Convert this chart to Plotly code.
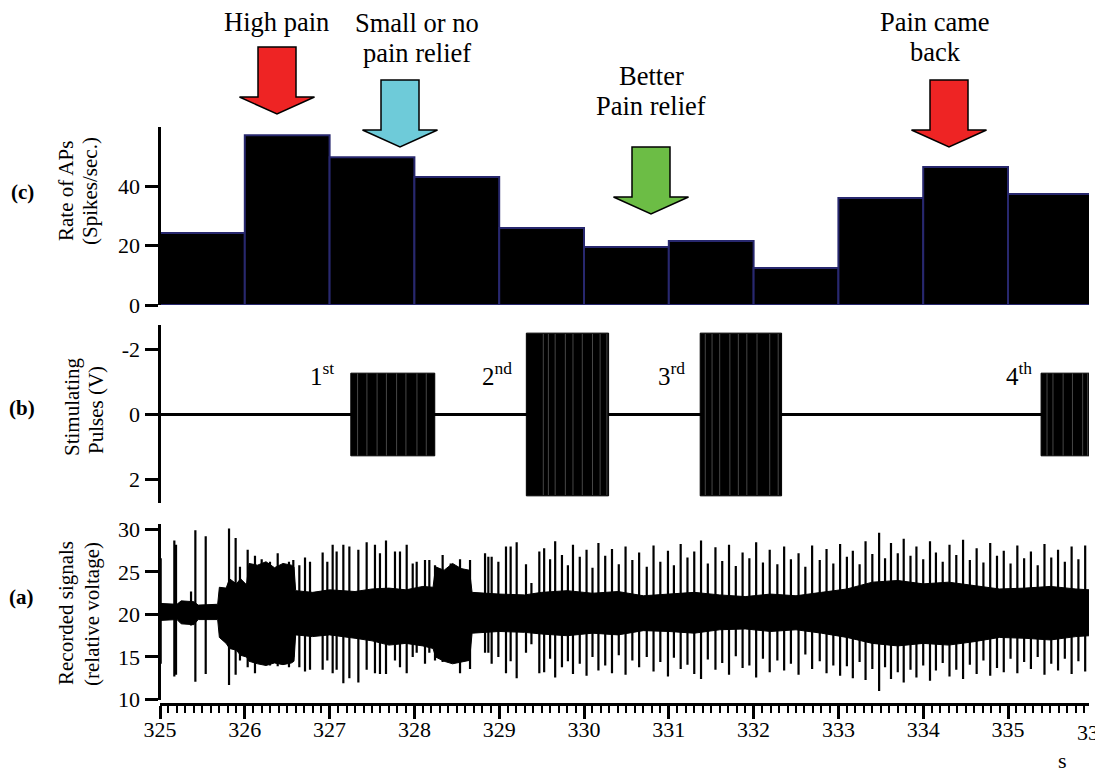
import plotly.graph_objects as go

# ---------------- data ----------------
# Panel (c): firing-rate histogram, 1-s bins
bin_start = [325, 326, 327, 328, 329, 330, 331, 332, 333, 334, 335]
rate = [24.2, 57.1, 49.7, 43.0, 25.9, 19.5, 21.5, 12.4, 36.0, 46.4, 37.3]

# Panel (b): stimulation trains
train_start = [327.25, 329.32, 331.37, 335.39]
train_end = [328.24, 330.29, 332.33, 336.0]
train_amp = [1.27, 2.5, 2.5, 1.27]
train_label = ["1<sup>st</sup>", "2<sup>nd</sup>", "3<sup>rd</sup>", "4<sup>th</sup>"]
train_label_t = [326.91, 328.97, 331.03, 335.13]
# boundaries between successive pulses inside the trains (faint light lines)
pulse_edge_t = [327.33, 327.44, 327.56, 327.67, 327.79, 327.90, 328.03, 328.14,
                329.52, 329.58, 329.66, 329.78, 329.87, 329.98, 330.10, 330.19, 330.27,
                331.43, 331.51, 331.60, 331.72, 331.82, 331.92, 332.04, 332.19, 332.29,
                335.46, 335.53, 335.65, 335.76, 335.88, 335.94]
pulse_edge_amp = [1.27] * 8 + [2.5] * 18 + [1.27] * 6

# Panel (a): recorded signal – background envelope
env_t = [325.00, 325.20, 325.25, 325.40, 325.45, 325.68, 325.70, 325.78, 325.82, 325.90,
         325.95, 326.02, 326.05, 326.15, 326.25, 326.35, 326.45, 326.55, 326.58, 326.60,
         326.80, 327.00, 327.30, 327.50, 327.70, 327.90, 328.10, 328.22, 328.25, 328.35,
         328.45, 328.55, 328.65, 328.68, 329.00, 329.30, 329.50, 329.80, 330.10, 330.40,
         330.70, 331.00, 331.30, 331.60, 331.90, 332.20, 332.50, 332.80, 333.10, 333.40,
         333.70, 334.00, 334.30, 334.60, 334.90, 335.20, 335.50, 335.80, 335.96]
env_hi = [21.3, 21.2, 21.6, 21.5, 21.1, 21.2, 23.2, 23.1, 24.2, 23.6,
          24.2, 23.5, 26.0, 25.8, 26.2, 25.5, 26.0, 25.8, 25.6, 22.8,
          22.6, 22.9, 22.7, 23.0, 23.1, 22.9, 23.3, 23.2, 25.6, 25.2,
          26.0, 25.4, 25.2, 22.6, 22.4, 22.3, 22.6, 22.8, 22.5, 22.7,
          22.2, 22.4, 22.6, 22.3, 22.1, 22.4, 22.2, 22.6, 23.0, 23.8,
          24.0, 23.6, 23.8, 23.4, 23.0, 23.1, 23.3, 23.0, 22.9]
env_lo = [19.3, 19.4, 18.9, 18.8, 19.4, 19.4, 17.3, 16.6, 16.0, 15.8,
          15.2, 15.0, 14.5, 14.2, 14.0, 14.3, 14.1, 14.3, 14.5, 17.6,
          17.4, 17.6, 17.2, 16.9, 16.4, 16.6, 16.3, 16.0, 15.0, 14.5,
          14.2, 14.4, 14.6, 17.8, 18.0, 17.9, 17.7, 17.5, 17.8, 17.6,
          18.1, 18.0, 17.8, 18.2, 18.3, 18.0, 18.2, 17.8, 17.3, 16.6,
          16.3, 16.6, 16.4, 16.8, 17.3, 17.2, 17.0, 17.4, 17.5]

# Panel (a): individual action potentials (time, upper tip, lower tip)
spike_t = [325.008, 325.169, 325.189, 325.366, 325.417, 325.539, 325.814, 325.892, 325.943,
           326.034, 326.120, 326.199, 326.297, 326.388, 326.521, 326.572, 326.643, 326.710,
           326.769, 326.918, 326.973, 327.036, 327.083, 327.162, 327.233, 327.339, 327.437,
           327.535, 327.594, 327.665, 327.771, 327.830, 327.909, 327.980, 328.027, 328.125,
           328.176, 328.243, 328.333, 328.428, 328.538, 328.656, 328.833, 328.872, 328.911,
           328.990, 329.080, 329.135, 329.206, 329.316, 329.380, 329.473,
           329.53, 329.60, 329.66, 329.74, 329.81, 329.87, 329.95, 330.03, 330.10, 330.17,
           330.25, 330.33, 330.41, 330.49, 330.57, 330.65, 330.74, 330.82, 330.90, 330.99,
           331.06, 331.14, 331.22, 331.30, 331.38, 331.46, 331.55, 331.63, 331.71, 331.79,
           331.87, 331.95, 332.03, 332.11, 332.19, 332.28, 332.36, 332.44, 332.53, 332.61,
           332.69, 332.78, 332.86, 332.94, 333.02, 333.10, 333.17, 333.25, 333.32, 333.40,
           333.48, 333.55, 333.62, 333.70, 333.77, 333.85, 333.92, 334.00, 334.08, 334.15,
           334.23, 334.31, 334.39, 334.47, 334.55, 334.63, 334.71, 334.79, 334.87, 334.95,
           335.03, 335.11, 335.19, 335.27, 335.35, 335.43, 335.51, 335.59, 335.67, 335.75,
           335.83, 335.91]
spike_hi = [26.6, 28.7, 28.2, 22.7, 29.9, 29.2, 30.1, 29.0, 25.6,
            27.6, 26.9, 26.5, 26.2, 27.2, 26.2, 26.4, 25.8, 26.7,
            26.2, 27.3, 26.2, 28.2, 27.4, 28.2, 28.0, 27.6, 28.5,
            28.2, 27.2, 28.7, 27.4, 27.4, 28.2, 26.0, 26.2, 26.4,
            26.4, 25.8, 27.0, 26.0, 26.5, 26.4, 27.2, 26.8, 26.8,
            26.2, 28.0, 28.0, 28.5, 25.9, 23.7, 27.4,
            27.8, 26.5, 28.6, 27.0, 25.8, 28.2, 26.8, 27.6, 25.5, 28.4,
            26.9, 27.7, 25.9, 28.0, 26.4, 27.3, 25.6, 28.1, 26.2, 27.5,
            25.8, 28.3, 26.7, 27.4, 28.7, 26.0, 27.9, 26.3, 28.2, 25.7,
            27.3, 26.6, 28.5, 26.1, 27.6, 25.9, 28.0, 26.5, 27.2, 25.6,
            28.1, 26.4, 27.7, 26.0, 28.3, 26.8, 27.5, 25.9, 28.6, 27.1,
            29.6, 26.6, 28.4, 27.2, 28.9, 26.9, 28.0, 26.5, 28.6, 27.3,
            26.2, 28.2, 27.0, 28.8, 26.4, 27.8, 26.1, 28.4, 26.9, 27.5,
            26.0, 28.1, 26.6, 27.4, 25.8, 28.3, 26.7, 27.6, 26.2, 28.0,
            26.5, 28.1]
spike_lo = [14.2, 12.7, 12.9, 18.7, 12.1, 13.0, 11.7, 12.9, 14.6,
            13.8, 13.1, 14.2, 14.0, 13.9, 13.8, 15.0, 13.8, 13.3,
            13.5, 13.5, 14.6, 13.1, 13.5, 11.9, 12.5, 12.0, 13.5,
            13.1, 13.0, 13.0, 14.6, 13.8, 13.1, 15.0, 15.5, 14.2,
            15.5, 14.6, 14.4, 14.6, 13.1, 13.6, 15.5, 15.5, 14.2,
            15.0, 13.1, 14.5, 12.5, 15.5, 16.5, 13.1,
            13.2, 14.8, 12.6, 13.8, 14.5, 13.0, 14.2, 12.8, 15.0, 13.4,
            14.0, 13.1, 15.2, 12.9, 14.6, 13.8, 15.0, 13.3, 14.4, 12.7,
            14.9, 13.6, 14.1, 13.0, 12.4, 14.7, 13.5, 14.3, 12.9, 15.1,
            13.7, 14.0, 12.6, 14.8, 13.2, 14.6, 13.4, 14.2, 12.9, 15.3,
            13.6, 14.5, 13.1, 14.0, 12.8, 13.9, 12.5, 14.4, 12.3, 13.6,
            11.0, 13.8, 12.4, 13.2, 12.0, 13.5, 12.6, 14.0, 12.2, 13.4,
            14.3, 12.7, 13.5, 12.4, 14.1, 13.0, 14.6, 12.8, 13.7, 13.2,
            14.8, 13.1, 14.4, 13.6, 15.0, 12.9, 14.2, 13.4, 14.8, 13.0,
            14.5, 13.3]

x_ticks = [325, 326, 327, 328, 329, 330, 331, 332, 333, 334, 335]

# ---------------- figure ----------------
W, H = 1095, 772
SERIF = "Liberation Serif"
X0, X1 = 325.0, 335.955
PX0, PX1 = 160, 1089


def py(p):
    return 1 - p / H


def px(p):
    return p / W


fig = go.Figure()

# (c) bars
fig.add_trace(go.Bar(
    x=[b + 0.5 for b in bin_start], y=rate, width=1.0,
    marker=dict(color="black", line=dict(color="#28286e", width=2)),
    xaxis="x", yaxis="y", showlegend=False, hoverinfo="skip"))

# (b) baseline
fig.add_trace(go.Scatter(x=[X0, X1], y=[0, 0], mode="lines",
                         line=dict(color="black", width=3),
                         xaxis="x", yaxis="y2", showlegend=False, hoverinfo="skip"))
# (b) pulse trains
for s, e, a in zip(train_start, train_end, train_amp):
    fig.add_trace(go.Scatter(x=[s, s, e, e, s], y=[-a, a, a, -a, -a], mode="lines",
                             fill="toself", fillcolor="black",
                             line=dict(color="black", width=1),
                             xaxis="x", yaxis="y2", showlegend=False, hoverinfo="skip"))
ex, ey = [], []
for t, a in zip(pulse_edge_t, pulse_edge_amp):
    ex += [t, t, None]
    ey += [-a * 0.99, a * 0.99, None]
fig.add_trace(go.Scatter(x=ex, y=ey, mode="lines", line=dict(color="rgba(150,150,150,0.6)", width=0.8),
                         xaxis="x", yaxis="y2", showlegend=False, hoverinfo="skip"))

# (a) envelope
fig.add_trace(go.Scatter(x=env_t, y=env_lo, mode="lines", line=dict(color="black", width=1),
                         xaxis="x", yaxis="y3", showlegend=False, hoverinfo="skip"))
fig.add_trace(go.Scatter(x=env_t, y=env_hi, mode="lines", line=dict(color="black", width=1),
                         fill="tonexty", fillcolor="black",
                         xaxis="x", yaxis="y3", showlegend=False, hoverinfo="skip"))
# (a) spikes
sx, sy = [], []
for t, hi, lo in zip(spike_t, spike_hi, spike_lo):
    sx += [t, t, None]
    sy += [lo, hi, None]
fig.add_trace(go.Scatter(x=sx, y=sy, mode="lines", line=dict(color="black", width=2.2),
                         xaxis="x", yaxis="y3", showlegend=False, hoverinfo="skip",
                         connectgaps=False))

tickfont = dict(family=SERIF, size=22, color="black")
common_y = dict(showgrid=False, zeroline=False, showline=True, linecolor="black", linewidth=3,
                ticks="outside", ticklen=13, tickwidth=3, tickcolor="black",
                tickfont=tickfont, anchor="free", position=px(158.5), automargin=False)

fig.update_layout(
    template="none",
    width=W, height=H, margin=dict(l=0, r=0, t=0, b=0, pad=0, autoexpand=False),
    paper_bgcolor="white", plot_bgcolor="rgba(0,0,0,0)",
    font=dict(family=SERIF, size=21, color="black"),
    showlegend=False, barmode="overlay",
    xaxis=dict(domain=[px(PX0), px(PX1)], range=[X0, X1], anchor="free", position=py(703.5),
               automargin=False, ticklabelstandoff=-8,
               showgrid=False, zeroline=False, showline=True, linecolor="black", linewidth=3,
               tickvals=x_ticks, ticks="outside", ticklen=13, tickwidth=3, tickcolor="black",
               tickfont=tickfont,
               minor=dict(dtick=0.1, tick0=325, ticks="outside", ticklen=7, tickwidth=2,
                          tickcolor="black", showgrid=False)),
    yaxis=dict(domain=[py(305), py(126.5)], range=[0, 60], tickvals=[0, 20, 40], **common_y),
    yaxis2=dict(domain=[py(503), py(325)], range=[2.72, -2.75], tickvals=[-2, 0, 2],
                ticktext=["-2", "0", "2"], **common_y),
    yaxis3=dict(domain=[py(699.5), py(523.5)], range=[10, 30.7],
                tickvals=[10, 15, 20, 25, 30], **common_y),
)

ann = []


def text(x, y, s, size=21, bold=False, angle=0, xanchor="center"):
    ann.append(dict(x=px(x), y=py(y), xref="paper", yref="paper", text=("<b>%s</b>" % s) if bold else s,
                    showarrow=False, textangle=angle, xanchor=xanchor, yanchor="middle",
                    font=dict(family=SERIF, size=size, color="black")))


# panel letters
text(22, 192, "(c)", bold=True)
text(22, 408, "(b)", bold=True)
text(21, 597, "(a)", bold=True)
# axis titles
text(66, 191, "Rate of APs", angle=-90)
text(90, 191, "(Spikes/sec.)", angle=-90)
text(72, 407, "Stimulating", angle=-90)
text(96, 410, "Pulses (V)", angle=-90)
text(66, 613, "Recorded signals", angle=-90)
text(92, 614, "(relative voltage)", angle=-90)
# clipped last tick label and unit
text(1093, 732, "336", size=22)
text(1062, 760, "s", size=22)
# top annotations
TS = 26.5
text(276, 22, "High pain", size=TS)
text(417, 23, "Small or no", size=TS)
text(417, 53, "pain relief", size=TS)
text(651, 76, "Better", size=TS)
text(651, 106, "Pain relief", size=TS)
text(935, 22, "Pain came", size=TS)
text(935, 52, "back", size=TS)

# stimulation train labels
for lt, lab in zip(train_label_t, train_label):
    ann.append(dict(x=lt, y=-1.25, xref="x", yref="y2", text=lab, showarrow=False,
                    xanchor="center", yanchor="middle",
                    font=dict(family=SERIF, size=25, color="black")))

fig.update_layout(annotations=ann)

# block arrows (decoration)
arrows = [(277, 47, "#ee2424"), (400, 80, "#6ecbd9"), (651, 147, "#6cbd45"), (949, 80, "#ee2424")]
shapes = []
for cx, top, col in arrows:
    sw, hw, shaft, head = 19, 37.5, 50, 17
    pts = [(cx - sw, top), (cx + sw, top), (cx + sw, top + shaft), (cx + hw, top + shaft),
           (cx, top + shaft + head), (cx - hw, top + shaft), (cx - sw, top + shaft)]
    path = "M " + " L ".join("%.5f,%.5f" % (px(a), py(b)) for a, b in pts) + " Z"
    shapes.append(dict(type="path", xref="paper", yref="paper", path=path,
                       fillcolor=col, line=dict(color="black", width=1.5), layer="above"))
fig.update_layout(shapes=shapes)

fig.write_html("out.html")
